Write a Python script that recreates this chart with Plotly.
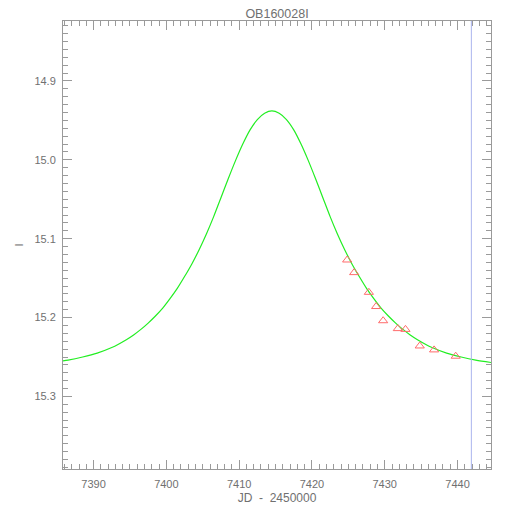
import plotly.graph_objects as go


TITLE = "OB160028I"

# model light curve
model_jd = [7385.8, 7386.5, 7388.5, 7390.5, 7392.5, 7394.5, 7395.5, 7396.5,
            7397.5, 7398.5, 7399.5, 7400.5, 7401.5, 7402.5, 7403.5, 7404.5,
            7405.5, 7406.5, 7407.5, 7408.5, 7409.5, 7410.5, 7411.5, 7412.5,
            7413.5, 7414.5, 7415.5, 7416.5, 7417.5, 7418.5, 7419.5, 7420.5,
            7421.5, 7422.5, 7423.5, 7424.5, 7425.5, 7426.5, 7427.5, 7428.5,
            7429.5, 7430.5, 7431.5, 7432.5, 7433.5, 7434.5, 7436.5, 7438.5,
            7440.5, 7442.5, 7444.6]
model_mag = [15.255, 15.254, 15.250, 15.245, 15.238, 15.228, 15.222, 15.215,
             15.207, 15.198, 15.188, 15.176, 15.163, 15.148, 15.132, 15.114,
             15.094, 15.072, 15.048, 15.024, 15.001, 14.980, 14.962, 14.949,
             14.941, 14.938, 14.941, 14.949, 14.962, 14.980, 15.001, 15.024,
             15.048, 15.072, 15.094, 15.114, 15.132, 15.148, 15.163, 15.176,
             15.188, 15.198, 15.207, 15.215, 15.222, 15.228, 15.238, 15.245,
             15.250, 15.254, 15.257]

# observed points
obs_jd = [7424.84, 7425.80, 7427.82, 7428.82, 7429.78, 7431.80, 7432.85,
          7434.81, 7436.78, 7439.75]
obs_mag = [15.127, 15.143, 15.168, 15.186, 15.204, 15.214, 15.215,
           15.236, 15.241, 15.249]

marker_jd = [7441.9]

AXIS = "#9a9a9a"
TEXT = "#707070"


fig = go.Figure()

fig.add_trace(
    go.Scatter(
        x=model_jd,
        y=model_mag,
        mode="lines",
        line=dict(color="#22ee22", width=1.2, shape="spline", smoothing=0.8),
        showlegend=False,
    )
)

fig.add_trace(
    go.Scatter(
        x=obs_jd,
        y=obs_mag,
        mode="markers",
        marker=dict(
            symbol="triangle-up-open",
            size=8,
            color="#ff6b6b",
            line=dict(width=1),
        ),
        showlegend=False,
    )
)

for jd in marker_jd:
    fig.add_shape(
        type="line",
        x0=jd, x1=jd,
        y0=0, y1=1,
        yref="paper",
        line=dict(color="#aab4ee", width=1),
    )

# the page body adds an 8px offset, so margins are shifted to compensate
fig.update_layout(
    width=510,
    height=510,
    paper_bgcolor="white",
    plot_bgcolor="white",
    font=dict(family="Liberation Sans", color=TEXT, size=11),
    margin=dict(l=55, r=27, t=13, b=49, autoexpand=False),
    title=dict(
        text=TITLE,
        x=0.5,
        xref="paper",
        xanchor="center",
        y=1 - 6 / 510,
        yanchor="middle",
        font=dict(size=12.5, color=TEXT),
    ),
)

fig.update_xaxes(
    range=[7385.8, 7444.6],
    tick0=7390,
    dtick=10,
    ticks="inside",
    ticklen=9,
    tickcolor=AXIS,
    showline=True,
    linecolor=AXIS,
    linewidth=1,
    mirror="ticks",
    showgrid=False,
    zeroline=False,
    automargin=False,
    ticklabelstandoff=5,
    minor=dict(ticks="inside", ticklen=5, dtick=1, tickcolor=AXIS),
    title=dict(text="JD  -  2450000", standoff=4, font=dict(size=12, color=TEXT)),
)

fig.update_yaxes(
    range=[15.392, 14.824],
    tick0=14.9,
    dtick=0.1,
    tickformat=".1f",
    ticks="inside",
    ticklen=9,
    tickcolor=AXIS,
    showline=True,
    linecolor=AXIS,
    linewidth=1,
    mirror="ticks",
    showgrid=False,
    zeroline=False,
    automargin=False,
    ticklabelstandoff=4,
    minor=dict(ticks="inside", ticklen=5, dtick=0.01, tickcolor=AXIS),
    title=dict(text="I", standoff=8, font=dict(size=11, color=TEXT)),
)

fig.write_html("out.html")
